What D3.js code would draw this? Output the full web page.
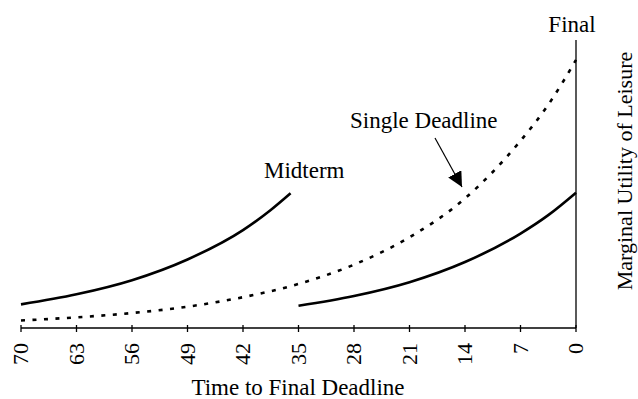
<!DOCTYPE html>
<html>
<head>
<meta charset="utf-8">
<script src="https://d3js.org/d3.v7.min.js"></script>
<style>
  body { margin: 0; background: #fff; }
  text { font-family: "Liberation Serif", "Times New Roman", serif; fill: #000; }
</style>
</head>
<body>
<svg id="chart" width="638" height="399"></svg>
<script>
// days left before the final deadline (axis runs 70 -> 0)
const tickDays = [70, 63, 56, 49, 42, 35, 28, 21, 14, 7, 0];

// single deadline (dotted)
const singleDays = [70, 63, 56, 49, 42, 35, 28, 21, 14, 7, 3.5, 0];
const singleVals = [2.6, 3.7, 5.2, 7.4, 10.7, 15.3, 22.0, 31.5, 45.0, 65.0, 77.5, 93.1];

// midterm (solid, left piece)
const midDays = [70, 63, 56, 49, 42, 38.5, 36];
const midVals = [8.2, 11.7, 16.6, 23.8, 34.0, 41.0, 46.8];

// final (solid, right piece)
const finalDays = [35, 28, 21, 14, 7, 3.5, 0];
const finalVals = [7.7, 11.1, 15.9, 22.9, 32.8, 39.2, 47.0];

const svg = d3.select("#chart");

const x = d3.scaleLinear().domain([70, 0]).range([21, 576]);
const y = d3.scaleLinear().domain([0, 100]).range([328, 40]);

const line = d3.line()
    .x(d => x(d[0]))
    .y(d => y(d[1]))
    .curve(d3.curveMonotoneX);

// x axis
const xAxis = svg.append("g").attr("transform", `translate(0,${y(0)})`);
xAxis.append("line")
    .attr("x1", x(70)).attr("x2", x(0))
    .attr("stroke", "black").attr("stroke-width", 1.3);
xAxis.selectAll("line.tick")
    .data(tickDays)
    .join("line")
    .attr("class", "tick")
    .attr("x1", d => x(d)).attr("x2", d => x(d))
    .attr("y1", -3).attr("y2", 4)
    .attr("stroke", "black").attr("stroke-width", 1.3);
xAxis.selectAll("text.ticklab")
    .data(tickDays)
    .join("text")
    .attr("class", "ticklab")
    .attr("transform", d => `translate(${x(d)},15) rotate(-90)`)
    .attr("text-anchor", "end")
    .attr("dy", "0.34em")
    .style("font-size", "22px")
    .text(d => d);

// y axis (right side, no ticks)
svg.append("line")
    .attr("x1", x(0)).attr("x2", x(0))
    .attr("y1", y(0)).attr("y2", y(100))
    .attr("stroke", "black").attr("stroke-width", 1.3);

// curves
svg.append("path")
    .datum(midDays.map((d, i) => [d, midVals[i]]))
    .attr("d", line)
    .attr("fill", "none").attr("stroke", "black").attr("stroke-width", 2.6);

svg.append("path")
    .datum(finalDays.map((d, i) => [d, finalVals[i]]))
    .attr("d", line)
    .attr("fill", "none").attr("stroke", "black").attr("stroke-width", 2.6);

svg.append("path")
    .datum(singleDays.map((d, i) => [d, singleVals[i]]))
    .attr("d", line)
    .attr("fill", "none").attr("stroke", "black").attr("stroke-width", 2.6)
    .attr("stroke-dasharray", "4,7.5");

// arrow to the dotted curve
svg.append("defs").append("marker")
    .attr("id", "head")
    .attr("viewBox", "0 0 10 10")
    .attr("refX", 10).attr("refY", 5)
    .attr("markerWidth", 15).attr("markerHeight", 15)
    .attr("markerUnits", "userSpaceOnUse")
    .attr("orient", "auto")
    .append("path")
    .attr("d", "M0,0 L10,5 L0,10 Z")
    .attr("fill", "black");

svg.append("line")
    .attr("x1", 435).attr("y1", 138)
    .attr("x2", 462).attr("y2", 187)
    .attr("stroke", "black").attr("stroke-width", 1.2)
    .attr("marker-end", "url(#head)");

// labels
svg.append("text").attr("x", 350).attr("y", 128).style("font-size", "23px").text("Single Deadline");
svg.append("text").attr("x", 264).attr("y", 178).style("font-size", "23px").text("Midterm");
svg.append("text").attr("x", 572).attr("y", 32).attr("text-anchor", "middle").style("font-size", "23px").text("Final");

svg.append("text")
    .attr("x", 298).attr("y", 395)
    .attr("text-anchor", "middle")
    .style("font-size", "23px")
    .text("Time to Final Deadline");

svg.append("text")
    .attr("transform", `translate(632,171) rotate(-90)`)
    .attr("text-anchor", "middle")
    .style("font-size", "22px")
    .text("Marginal Utility of Leisure");
</script>
</body>
</html>
